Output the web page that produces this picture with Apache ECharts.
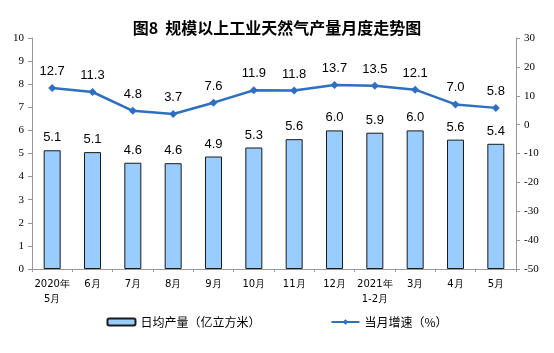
<!DOCTYPE html>
<html>
<head>
<meta charset="utf-8">
<script src="https://cdn.jsdelivr.net/npm/echarts@6/dist/echarts.min.js"></script>
<style>
	html, body { margin: 0; padding: 0; background: #fff; }
	#main { width: 554px; height: 353px; }
</style>
</head>
<body>
<div id="main"></div>
<script>
var months = ["2020年\n5月", "6月", "7月", "8月", "9月", "10月", "11月", "12月", "2021年\n1-2月", "3月", "4月", "5月"];
var output = [5.14, 5.06, 4.6, 4.58, 4.87, 5.26, 5.62, 6.0, 5.9, 6.0, 5.6, 5.42];
var growth = [12.7, 11.3, 4.8, 3.7, 7.6, 11.9, 11.8, 13.7, 13.5, 12.1, 7.0, 5.8];

var chart = echarts.init(document.getElementById('main'));

var axisFont = { fontFamily: 'Liberation Serif', fontSize: 11, color: '#000' };

var option = {
	animation: false,
	title: {
		text: '图8  规模以上工业天然气产量月度走势图',
		left: 'center',
		top: 15,
		textStyle: { fontFamily: 'Noto Sans CJK SC', fontSize: 16, fontWeight: 'bold', color: '#000' }
	},
	legend: {
		bottom: 20,
		itemGap: 70,
		itemWidth: 28,
		itemHeight: 7,
		textStyle: { fontFamily: 'Noto Sans CJK SC', fontSize: 12, color: '#000' },
		data: ['日均产量（亿立方米）', '当月增速（%）']
	},
	grid: { left: 32, right: 38, top: 38, bottom: 84 },
	xAxis: {
		type: 'category',
		data: months,
		axisLine: { lineStyle: { color: '#999' } },
		axisTick: { show: true, length: 3, lineStyle: { color: '#999' } },
		axisLabel: { interval: 0, fontFamily: 'DejaVu Sans', fontSize: 10, color: '#000', margin: 8, lineHeight: 15 }
	},
	yAxis: [{
		type: 'value',
		min: 0, max: 10, interval: 1,
		axisLine: { show: true, lineStyle: { color: '#999' } },
		axisTick: { show: true, length: 4, lineStyle: { color: '#999' } },
		splitLine: { show: false },
		axisLabel: axisFont
	}, {
		type: 'value',
		min: -50, max: 30, interval: 10,
		axisLine: { show: true, lineStyle: { color: '#999' } },
		axisTick: { show: true, length: 4, lineStyle: { color: '#999' } },
		splitLine: { show: false },
		axisLabel: axisFont
	}],
	series: [{
		name: '日均产量（亿立方米）',
		type: 'bar',
		data: output,
		barWidth: 17,
		itemStyle: { color: '#99CCFF', borderColor: '#1a1a1a', borderWidth: 1 },
		label: {
			show: true, position: 'top', distance: 6,
			fontFamily: 'Liberation Sans', fontSize: 13, color: '#000',
			formatter: function (p) { return p.value.toFixed(1); }
		}
	}, {
		name: '当月增速（%）',
		type: 'line',
		yAxisIndex: 1,
		data: growth,
		symbol: 'diamond',
		symbolSize: 8,
		lineStyle: { color: '#2E6FBF', width: 2.5 },
		itemStyle: { color: '#2E6FBF' },
		label: {
			show: true, position: 'top', distance: 6,
			fontFamily: 'Liberation Sans', fontSize: 13, color: '#000',
			formatter: function (p) { return p.value.toFixed(1); }
		}
	}]
};

chart.setOption(option);
</script>
</body>
</html>
